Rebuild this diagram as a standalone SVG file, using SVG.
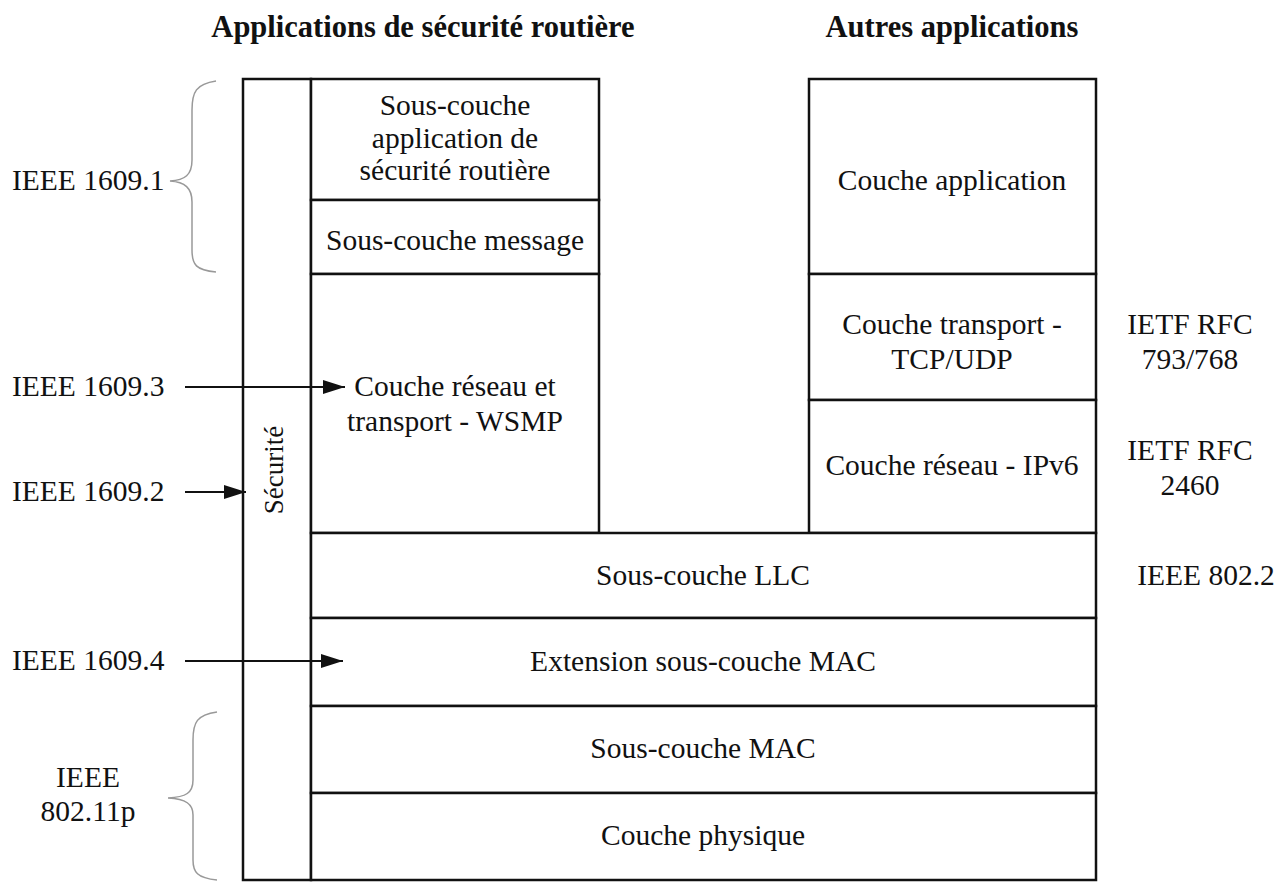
<svg xmlns="http://www.w3.org/2000/svg" width="1281" height="884" viewBox="0 0 1281 884">
<style>
.b{fill:#fff;stroke:#111;stroke-width:2.5}
.t{font-family:"Liberation Serif",serif;font-size:29.5px;fill:#111;text-anchor:middle}
.l{font-family:"Liberation Serif",serif;font-size:29.5px;fill:#111}
.s{font-family:"Liberation Serif",serif;font-size:27px;fill:#111;text-anchor:middle}
.h{font-family:"Liberation Serif",serif;font-size:30.5px;font-weight:bold;fill:#111;text-anchor:middle}
.br{fill:none;stroke:#999;stroke-width:1.5}
.ar{stroke:#111;stroke-width:2;fill:none;marker-end:url(#ah)}
</style>
<defs>
<marker id="ah" markerWidth="22" markerHeight="14" refX="22" refY="7" orient="auto" markerUnits="userSpaceOnUse">
<path d="M0,0 L22,7 L0,14 Z" fill="#111"/>
</marker>
</defs>
<rect width="1281" height="884" fill="#fff"/>
<text class="h" x="423" y="37">Applications de sécurité routière</text>
<text class="h" x="952" y="37">Autres applications</text>

<g id="securite"><rect class="b" x="243" y="79" width="68" height="801"/>
<text class="s" transform="translate(283,470) rotate(-90)">Sécurité</text></g>

<g id="app-secu"><rect class="b" x="311" y="79" width="288" height="121"/>
<text class="t" x="455" y="115">Sous-couche</text>
<text class="t" x="455" y="148">application de</text>
<text class="t" x="455" y="180">sécurité routière</text></g>
<g id="message"><rect class="b" x="311" y="200" width="288" height="74"/>
<text class="t" x="455" y="250">Sous-couche message</text></g>
<g id="wsmp"><rect class="b" x="311" y="274" width="288" height="259"/>
<text class="t" x="455" y="396">Couche réseau et</text>
<text class="t" x="455" y="431">transport - WSMP</text></g>

<g id="app"><rect class="b" x="809" y="79" width="287" height="195"/>
<text class="t" x="952" y="190">Couche application</text></g>
<g id="tcp"><rect class="b" x="809" y="274" width="287" height="126"/>
<text class="t" x="952" y="334">Couche transport -</text>
<text class="t" x="952" y="369">TCP/UDP</text></g>
<g id="ipv6"><rect class="b" x="809" y="400" width="287" height="133"/>
<text class="t" x="952" y="475">Couche réseau - IPv6</text></g>

<g id="llc"><rect class="b" x="311" y="533" width="785" height="85"/>
<text class="t" x="703" y="585">Sous-couche LLC</text></g>
<g id="extmac"><rect class="b" x="311" y="618" width="785" height="88"/>
<text class="t" x="703" y="671">Extension sous-couche MAC</text></g>
<g id="mac"><rect class="b" x="311" y="706" width="785" height="87"/>
<text class="t" x="703" y="758">Sous-couche MAC</text></g>
<g id="phy"><rect class="b" x="311" y="793" width="785" height="87"/>
<text class="t" x="703" y="845">Couche physique</text></g>

<g id="labels">
<text class="l" x="12" y="190">IEEE 1609.1</text>
<text class="l" x="12" y="396">IEEE 1609.3</text>
<text class="l" x="12" y="501">IEEE 1609.2</text>
<text class="l" x="12" y="670">IEEE 1609.4</text>
<text class="t" x="88" y="787">IEEE</text>
<text class="t" x="88" y="821">802.11p</text>
<text class="t" x="1190" y="334">IETF RFC</text>
<text class="t" x="1190" y="369">793/768</text>
<text class="t" x="1190" y="460">IETF RFC</text>
<text class="t" x="1190" y="495">2460</text>
<text class="t" x="1206" y="585">IEEE 802.2</text>
</g>

<g id="connectors">
<path class="br" d="M216,81 C196,84 192,92 192,110 L192,160 C192,175 185,180 170,181 C185,182 192,188 192,202 L192,250 C192,265 196,270 216,272"/>
<path class="br" d="M217,712 C197,715 193,722 193,740 L193,780 C193,793 186,797 168,798 C186,799 193,804 193,815 L193,860 C193,872 197,878 217,880"/>
<line class="ar" x1="185" y1="387" x2="345" y2="387"/>
<line class="ar" x1="185" y1="492" x2="246" y2="492"/>
<line class="ar" x1="185" y1="661" x2="343" y2="661"/>
</g>
</svg>
